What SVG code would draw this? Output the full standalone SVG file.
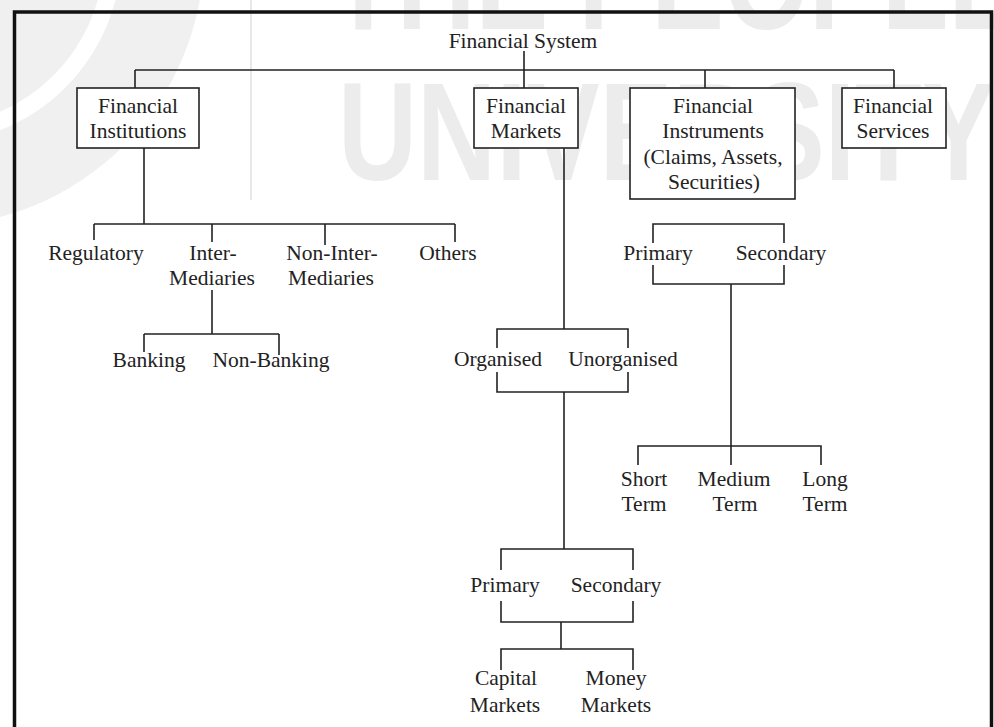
<svg xmlns="http://www.w3.org/2000/svg" width="994" height="727" viewBox="0 0 994 727">
<style>
.t{font-family:"Liberation Serif","Times New Roman",serif;font-size:21.5px;fill:#222;text-anchor:middle}
.wm{font-family:"Liberation Sans",Arial,sans-serif;font-weight:bold;font-size:140px;fill:#ececec}
.box{fill:#fff;stroke:#222;stroke-width:1.6}
#connectors path{fill:none;stroke:#222;stroke-width:1.6}
</style>
<rect width="994" height="727" fill="#fff"/>
<g id="watermark">
<circle cx="-70" cy="-48" r="274" fill="#f0f0f0"/>
<circle cx="-70" cy="-48" r="183" fill="none" stroke="#fff" stroke-width="17"/>
<line x1="251" y1="0" x2="251" y2="200" stroke="#e8e8e8" stroke-width="2"/>
<text class="wm" x="330" y="29" textLength="790" lengthAdjust="spacingAndGlyphs">THE PEOPLE'S</text>
<text class="wm" x="338" y="180" textLength="657" lengthAdjust="spacingAndGlyphs">UNIVERSITY</text>
</g>
<rect id="frame" x="14.5" y="12" width="977" height="730" fill="none" stroke="#111" stroke-width="3.5"/>
<g id="connectors">
<path d="M524 51V88M135 70H894M135 70V88M705 70V88M894 70V88"/>
<path d="M144 148V224M94 224H455M94 224V240M212 224V242M325 224V245M455 224V242"/>
<path d="M212 290V334M144 334H279M144 334V352M279 334V355"/>
<path d="M564 148V329M497 348V329H628V348M497 372V392H628V372M564 392V549"/>
<path d="M501 570V549H633V570M501 601V622H633V601M561 622V649M501 670V649H633V670"/>
<path d="M653 243V224H784V243M653 265V284H784V265M731 284V465M638 465V446H821V465"/>
</g>
<g id="financial-system"><text class="t" x="523" y="48">Financial System</text></g>
<g id="financial-institutions">
<rect class="box" x="77" y="88" width="122" height="60"/>
<text class="t" x="138" y="113">Financial</text>
<text class="t" x="138" y="138">Institutions</text>
</g>
<g id="financial-markets">
<rect class="box" x="474" y="88" width="104" height="60"/>
<text class="t" x="526" y="113">Financial</text>
<text class="t" x="526" y="138">Markets</text>
</g>
<g id="financial-instruments">
<rect class="box" x="630" y="88" width="165" height="111"/>
<text class="t" x="713" y="113">Financial</text>
<text class="t" x="713" y="138">Instruments</text>
<text class="t" x="713" y="164">(Claims, Assets,</text>
<text class="t" x="714" y="189">Securities)</text>
</g>
<g id="financial-services">
<rect class="box" x="842" y="88" width="104" height="60"/>
<text class="t" x="893" y="113">Financial</text>
<text class="t" x="893" y="138">Services</text>
</g>
<g id="regulatory"><text class="t" x="96" y="260">Regulatory</text></g>
<g id="intermediaries"><text class="t" x="213" y="260">Inter-</text><text class="t" x="212" y="285">Mediaries</text></g>
<g id="non-intermediaries"><text class="t" x="332" y="260">Non-Inter-</text><text class="t" x="331" y="285">Mediaries</text></g>
<g id="others"><text class="t" x="448" y="260">Others</text></g>
<g id="banking"><text class="t" x="149" y="367">Banking</text></g>
<g id="non-banking"><text class="t" x="271" y="367">Non-Banking</text></g>
<g id="organised"><text class="t" x="498" y="366">Organised</text></g>
<g id="unorganised"><text class="t" x="623" y="366">Unorganised</text></g>
<g id="instr-primary"><text class="t" x="658" y="260">Primary</text></g>
<g id="instr-secondary"><text class="t" x="781" y="260">Secondary</text></g>
<g id="short-term"><text class="t" x="644" y="486">Short</text><text class="t" x="644" y="511">Term</text></g>
<g id="medium-term"><text class="t" x="734" y="486">Medium</text><text class="t" x="735" y="511">Term</text></g>
<g id="long-term"><text class="t" x="825" y="486">Long</text><text class="t" x="825" y="511">Term</text></g>
<g id="mkt-primary"><text class="t" x="505" y="592">Primary</text></g>
<g id="mkt-secondary"><text class="t" x="616" y="592">Secondary</text></g>
<g id="capital-markets"><text class="t" x="506" y="685">Capital</text><text class="t" x="505" y="712">Markets</text></g>
<g id="money-markets"><text class="t" x="616" y="685">Money</text><text class="t" x="616" y="712">Markets</text></g>
</svg>
